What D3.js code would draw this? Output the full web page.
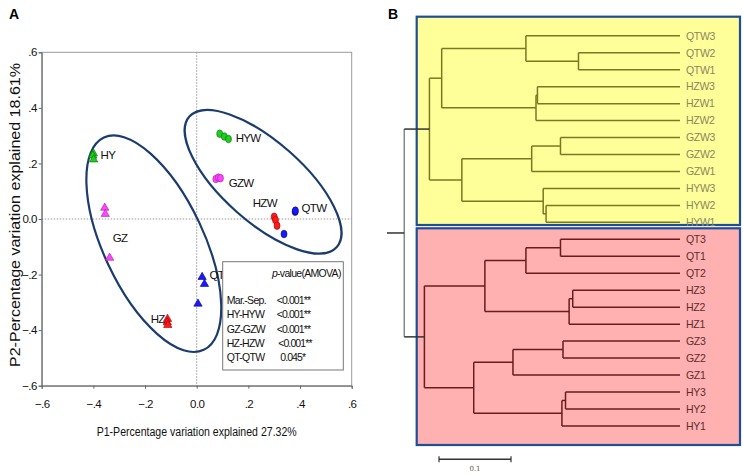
<!DOCTYPE html>
<html>
<head>
<meta charset="utf-8">
<script src="https://cdn.jsdelivr.net/npm/d3@7"></script>
<style>
  body { margin: 0; background: #fff; }
  svg { font-family: "Liberation Sans", Arial, sans-serif; }
</style>
</head>
<body>
<div id="chart"></div>
<script>
// ---- panel A data (PCoA coordinates) ----
const axisTicks = [-0.6, -0.4, -0.2, 0, 0.2, 0.4, 0.6];
const groupNames = ["HY", "GZ", "HZ", "QT", "HYW", "GZW", "HZW", "QTW"];
const hyPts  = [[-0.400, 0.236], [-0.402, 0.228], [-0.399, 0.214]];
const gzPts  = [[-0.356, 0.040], [-0.354, 0.018], [-0.337, -0.140]];
const hzPts  = [[-0.113, -0.360], [-0.114, -0.372], [-0.112, -0.382]];
const qtPts  = [[0.021, -0.209], [0.030, -0.234], [0.005, -0.305]];
const hywPts = [[0.089, 0.307], [0.107, 0.297], [0.123, 0.288]];
const gzwPts = [[0.074, 0.144], [0.084, 0.149], [0.092, 0.147]];
const hzwPts = [[0.300, 0.008], [0.305, -0.004], [0.311, -0.024]];
const qtwPts = [[0.381, 0.026], [0.382, 0.030], [0.338, -0.054]];
// label anchor of each group (start, baseline)
const groupLabels = [[-0.372, 0.217], [-0.325, -0.082], [-0.178, -0.373], [0.050, -0.215],
                     [0.151, 0.278], [0.124, 0.116], [0.217, 0.044], [0.406, 0.026]];
// ellipses: centre x, centre y, semi-major, semi-minor (x units), angle deg
const ellipses = [[-0.166, -0.089, 0.454, 0.194, 64.8], [0.257, 0.134, 0.381, 0.155, 41.5]];
const amovaPairs  = ["Mar.-Sep.", "HY-HYW", "GZ-GZW", "HZ-HZW", "QT-QTW"];
const amovaValues = ["<0.001**", "<0.001**", "<0.001**", "<0.001**", "0.045*"];

// ---- panel B data (UPGMA tree, heights in distance units) ----
const leafOrder = ["QTW3", "QTW2", "QTW1", "HZW3", "HZW1", "HZW2", "GZW3", "GZW2", "GZW1",
                   "HYW3", "HYW2", "HYW1", "QT3", "QT1", "QT2", "HZ3", "HZ2", "HZ1",
                   "GZ3", "GZ2", "GZ1", "HY3", "HY2", "HY1"];
// [left, right, height]; numbers point to earlier merges
const merges = [
  ["QTW2", "QTW1", 0.141], [ "QTW3", 0, 0.214],
  ["HZW3", "HZW1", 0.198], [2, "HZW2", 0.200],
  [1, 3, 0.331],
  ["GZW3", "GZW2", 0.166], [5, "GZW1", 0.206],
  ["HYW2", "HYW1", 0.186], ["HYW3", 7, 0.190],
  [6, 8, 0.303],
  [4, 9, 0.348],
  ["QT3", "QT1", 0.166], [11, "QT2", 0.214],
  ["HZ3", "HZ2", 0.149], [13, "HZ1", 0.154],
  [12, 14, 0.271],
  ["GZ3", "GZ2", 0.1625], [16, "GZ1", 0.232],
  ["HY3", "HY2", 0.159], [18, "HY1", 0.164],
  [17, 19, 0.2865],
  [15, 20, 0.355],
  [10, 21, 0.383]
];
const rootStub = 0.024;
const scaleBarLen = 0.1;

const W = 743, H = 475;
const svg = d3.select("#chart").append("svg").attr("width", W).attr("height", H);

// ================= Panel A =================
const x = d3.scaleLinear().domain([-0.6, 0.6]).range([41.7, 351.7]);
const y = d3.scaleLinear().domain([-0.6, 0.6]).range([385.7, 52.3]);
const fmt = d => d === 0 ? "0.0" : d3.format(".1f")(d).replace("0.", ".");

const gA = svg.append("g");

gA.append("text").attr("x", 9).attr("y", 19).text("A")
  .style("font-weight", "bold").style("font-size", "14px");

// frame
gA.append("rect").attr("x", x(-0.6)).attr("y", y(0.6))
  .attr("width", x(0.6) - x(-0.6)).attr("height", y(-0.6) - y(0.6))
  .style("fill", "none").style("stroke", "#9a9a9a").style("stroke-width", 1);

// dotted zero lines
gA.append("line").attr("x1", x(-0.6)).attr("x2", x(0.6)).attr("y1", y(0)).attr("y2", y(0))
  .style("stroke", "#999").style("stroke-dasharray", "1.5,1.5");
gA.append("line").attr("x1", x(0)).attr("x2", x(0)).attr("y1", y(0.6)).attr("y2", y(-0.6))
  .style("stroke", "#999").style("stroke-dasharray", "1.5,1.5");

const xAxis = gA.append("g").attr("transform", `translate(0,${y(-0.6)})`)
  .call(d3.axisBottom(x).tickValues(axisTicks).tickFormat(fmt).tickSize(3).tickPadding(11));
const yAxis = gA.append("g").attr("transform", `translate(${x(-0.6)},0)`)
  .call(d3.axisLeft(y).tickValues(axisTicks).tickFormat(fmt).tickSize(3).tickPadding(2));
[xAxis, yAxis].forEach(a => {
  a.select(".domain").style("stroke", "#666");
  a.selectAll(".tick line").style("stroke", "#666");
  a.selectAll("text").style("font-size", "11.5px").style("fill", "#111")
    .style("letter-spacing", "-0.6px").style("font-family", "Liberation Sans, Arial, sans-serif");
});

gA.append("text").attr("x", 196.7).attr("y", 435.5).attr("text-anchor", "middle")
  .attr("textLength", 200).attr("lengthAdjust", "spacingAndGlyphs")
  .style("font-size", "12px").style("fill", "#111")
  .text("P1-Percentage variation explained 27.32%");
gA.append("text").attr("transform", "translate(20,215) rotate(-90)").attr("text-anchor", "middle")
  .attr("textLength", 304).attr("lengthAdjust", "spacingAndGlyphs")
  .style("font-size", "14px").style("fill", "#111")
  .text("P2-Percentage variation explained 18.61%");

// ellipses
const kx = x(1) - x(0);
gA.selectAll(".ell").data(ellipses).join("ellipse")
  .attr("cx", 0).attr("cy", 0)
  .attr("rx", d => d[2] * kx).attr("ry", d => d[3] * kx)
  .attr("transform", d => `translate(${x(d[0])},${y(d[1])}) rotate(${d[4]})`)
  .style("fill", "none").style("stroke", "#1b3c6e").style("stroke-width", 2.2);

// points
const groupPts = [hyPts, gzPts, hzPts, qtPts, hywPts, gzwPts, hzwPts, qtwPts];
const fillOf = { HY: "#1fcc1f", GZ: "#ff44ff", HZ: "#ff1a1a", QT: "#1a1aff" };
const strokeOf = { HY: "#0a6a0a", GZ: "#a020a0", HZ: "#a00000", QT: "#00007a" };
const tri = d3.symbol().type(d3.symbolTriangle).size(30);

groupNames.forEach((name, i) => {
  const base = name.replace("W", "");
  const wild = name.endsWith("W");
  const sel = gA.append("g").selectAll("path,ellipse").data(groupPts[i]);
  if (wild) {
    sel.join("ellipse").attr("cx", d => x(d[0])).attr("cy", d => y(d[1]))
      .attr("rx", 3).attr("ry", 3.8)
      .style("fill", fillOf[base]).style("stroke", strokeOf[base]).style("stroke-width", 0.6);
  } else {
    sel.join("path").attr("d", tri)
      .attr("transform", d => `translate(${x(d[0])},${y(d[1])})`)
      .style("fill", fillOf[base]).style("stroke", strokeOf[base]).style("stroke-width", 0.6);
  }
  gA.append("text").attr("x", x(groupLabels[i][0])).attr("y", y(groupLabels[i][1]))
    .text(name).style("font-size", "11.5px").style("letter-spacing", "-0.7px").style("fill", "#111");
});

// AMOVA inset
const box = gA.append("g").attr("transform", "translate(222.7,261.7)");
box.append("rect").attr("width", 120.6).attr("height", 108.3)
  .style("fill", "#fff").style("stroke", "#777").style("stroke-width", 1);
const pv = box.append("text").attr("x", 118).attr("y", 15).attr("text-anchor", "end")
  .style("font-size", "10.5px").style("letter-spacing", "-0.7px").style("fill", "#111");
pv.append("tspan").text("p").style("font-style", "italic");
pv.append("tspan").text("-value(AMOVA)");
box.selectAll(".pair").data(amovaPairs).join("text")
  .attr("x", 4).attr("y", (d, i) => 42.5 + i * 14.2).text(d => d)
  .style("font-size", "10.5px").style("letter-spacing", "-0.7px").style("fill", "#111");
box.selectAll(".val").data(amovaValues).join("text")
  .attr("x", (d, i) => i === 4 ? 57.5 : (i === 3 ? 55.5 : 54)).attr("y", (d, i) => 42.5 + i * 14.2).text(d => d)
  .style("font-size", "10.5px").style("letter-spacing", "-0.9px").style("fill", "#111");

// ================= Panel B =================
const gB = svg.append("g");
gB.append("text").attr("x", 388).attr("y", 19).text("B")
  .style("font-weight", "bold").style("font-size", "14px");

// build hierarchy from merge list
const nodes = merges.map(m => ({ h: m[2], children: [] }));
merges.forEach((m, i) => {
  [m[0], m[1]].forEach(c => {
    nodes[i].children.push(typeof c === "number" ? nodes[c] : { name: c, h: 0 });
  });
});
const root = d3.hierarchy(nodes[nodes.length - 1]);
d3.cluster().size([434.4 - 27.3, 1]).separation(() => 1)(root);
root.each(d => { d.yPos = d.x + 27.3; });

const hx = d3.scaleLinear().domain([0, 0.4]).range([680, 680 - 288]);

// coloured boxes (one per wild / cultivated clade)
const boxFill = ["#ffff99", "#ffb0b0"];
const lineCol = ["#7a7820", "#6a1c1c"];
const labelCol = ["#8a8660", "#5a2e2e"];
const boxY = [[16.7, 225], [228.3, 445]];
root.children.forEach((c, i) => {
  gB.append("rect").attr("x", 416.7).attr("y", boxY[i][0])
    .attr("width", 740 - 416.7).attr("height", boxY[i][1] - boxY[i][0])
    .style("fill", boxFill[i]).style("stroke", "#1f4e96").style("stroke-width", 2.2);
  c.each(d => { d.clade = i; });
});

// branches
root.descendants().forEach(d => {
  const col = d.clade === undefined ? "#333" : lineCol[d.clade];
  if (d.children) {
    gB.append("line").attr("x1", hx(d.data.h)).attr("x2", hx(d.data.h))
      .attr("y1", d.children[0].yPos).attr("y2", d.children[d.children.length - 1].yPos)
      .style("stroke", d === root ? "#8a8a8a" : col).style("stroke-width", 1.5);
  }
  const ph = d.parent ? d.parent.data.h : d.data.h + rootStub;
  gB.append("line").attr("x1", hx(ph)).attr("x2", hx(d.data.h))
    .attr("y1", d.yPos).attr("y2", d.yPos)
    .style("stroke", d.depth <= 1 ? "#333" : col).style("stroke-width", 1.5);
});

// leaf labels
gB.selectAll(".leaf").data(root.leaves()).join("text")
  .attr("x", hx(0) + 6).attr("y", d => d.yPos + 3.8)
  .text(d => d.data.name)
  .style("font-size", "10.5px").style("letter-spacing", "-0.3px")
  .style("fill", d => labelCol[d.clade]);

// scale bar
const sb0 = 439, sb1 = sb0 + (hx(0) - hx(scaleBarLen)), sbY = 459.3;
gB.append("line").attr("x1", sb0).attr("x2", sb1).attr("y1", sbY).attr("y2", sbY)
  .style("stroke", "#333").style("stroke-width", 1.5);
[sb0, sb1].forEach(p => gB.append("line").attr("x1", p).attr("x2", p)
  .attr("y1", sbY - 3).attr("y2", sbY + 3).style("stroke", "#333").style("stroke-width", 1.2));
gB.append("text").attr("x", (sb0 + sb1) / 2).attr("y", 471).attr("text-anchor", "middle")
  .text("0.1").style("font-size", "7px").style("font-family", "DejaVu Serif, serif").style("fill", "#555");
</script>
</body>
</html>
